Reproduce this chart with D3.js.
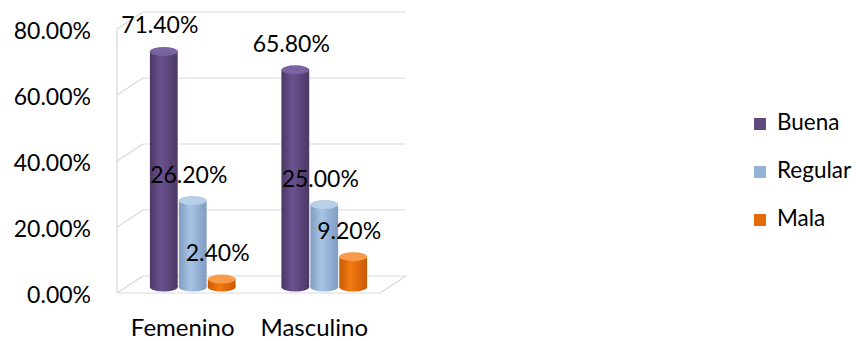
<!DOCTYPE html>
<html>
<head>
<meta charset="utf-8">
<script src="https://cdn.jsdelivr.net/npm/d3@7"></script>
<style>
  body { margin: 0; background: #fff; }
  text { font-family: Lato, "Open Sans", sans-serif; fill: #000; }
</style>
</head>
<body>
<svg id="chart" width="866" height="341"></svg>
<script>
const categories = ["Femenino", "Masculino"];
const series = ["Buena", "Regular", "Mala"];
const values = {
    Buena: [0.714, 0.658],
    Regular: [0.262, 0.25],
    Mala: [0.024, 0.092]
};
const yTicks = [0, 0.2, 0.4, 0.6, 0.8];

const colors = {
    Buena: ["#4b3863", "#6a5290", "#4b3863"],
    Regular: ["#7f9cc1", "#a8c4e6", "#7f9cc1"],
    Mala: ["#c85a05", "#f47a12", "#c85a05"]
};
const tops = { Buena: "#7a64a0", Regular: "#b8cfe8", Mala: "#f89a4a" };
const legendColors = { Buena: "#604a7b", Regular: "#95b3d7", Mala: "#e46c0a" };

const svg = d3.select("#chart");

const depth = { dx: 26, dy: -17 };       // back wall offset
const barDepth = { dx: 10, dy: -6 };     // bars sit a bit inside the floor

const y = d3.scaleLinear().domain([0, 0.8]).range([293, 29]);
const x0 = d3.scaleBand().domain(categories).range([117, 380]);
const x1 = d3.scaleBand().domain(series).range([-44, 44]).padding(0.04);

// gradients for cylinders
const defs = svg.append("defs");
series.forEach(s => {
    const g = defs.append("linearGradient").attr("id", "grad-" + s)
        .attr("x1", "0%").attr("x2", "100%").attr("y1", "0%").attr("y2", "0%");
    g.append("stop").attr("offset", "0%").attr("stop-color", colors[s][0]);
    g.append("stop").attr("offset", "40%").attr("stop-color", colors[s][1]);
    g.append("stop").attr("offset", "100%").attr("stop-color", colors[s][2]);
});

const grid = svg.append("g").attr("stroke", "#d9d9d9").attr("stroke-width", 1.2).attr("fill", "none");

// back wall gridlines + side wall diagonals
grid.selectAll(".back")
    .data(yTicks)
    .join("line")
    .attr("x1", 117 + depth.dx).attr("x2", 380 + depth.dx)
    .attr("y1", d => y(d) + depth.dy).attr("y2", d => y(d) + depth.dy);

grid.selectAll(".side")
    .data(yTicks)
    .join("line")
    .attr("x1", 117).attr("x2", 117 + depth.dx)
    .attr("y1", d => y(d)).attr("y2", d => y(d) + depth.dy);

// left vertical edge
grid.append("line")
    .attr("x1", 117).attr("x2", 117)
    .attr("y1", y(0)).attr("y2", y(0.8));

// floor front edge + right diagonal
grid.append("line")
    .attr("x1", 117).attr("x2", 380)
    .attr("y1", y(0)).attr("y2", y(0));
grid.append("line")
    .attr("x1", 380).attr("x2", 380 + depth.dx)
    .attr("y1", y(0)).attr("y2", y(0) + depth.dy);

// y axis labels
svg.append("g").selectAll("text")
    .data(yTicks)
    .join("text")
    .attr("x", 91)
    .attr("y", d => y(d) + 10)
    .attr("text-anchor", "end")
    .attr("font-size", 23)
    .text(d => d3.format(".2%")(d));

// category labels
svg.append("g").selectAll("text")
    .data(categories)
    .join("text")
    .attr("x", d => x0(d) + x0.bandwidth() / 2)
    .attr("y", 336)
    .attr("text-anchor", "middle")
    .attr("font-size", 24)
    .text(d => d);

// bars as cylinders
const bars = [];
categories.forEach((c, i) => {
    series.forEach(s => {
        bars.push({ cat: c, s: s, v: values[s][i] });
    });
});

const rx = x1.bandwidth() / 2;
const ry = 4.5;
const cx = d => x0(d.cat) + x0.bandwidth() / 2 + x1(d.s) + rx + barDepth.dx;
const baseY = y(0) + barDepth.dy;
const topY = d => y(d.v) + barDepth.dy;

const barG = svg.append("g");
const cyl = barG.selectAll("g")
    .data(bars)
    .join("g");

cyl.append("ellipse")
    .attr("cx", cx).attr("cy", baseY)
    .attr("rx", rx).attr("ry", ry)
    .attr("fill", d => `url(#grad-${d.s})`);

cyl.append("rect")
    .attr("x", d => cx(d) - rx)
    .attr("y", topY)
    .attr("width", rx * 2)
    .attr("height", d => baseY - topY(d))
    .attr("fill", d => `url(#grad-${d.s})`);

cyl.append("ellipse")
    .attr("cx", cx).attr("cy", topY)
    .attr("rx", rx).attr("ry", ry)
    .attr("fill", d => tops[d.s]);

// value labels
svg.append("g").selectAll("text")
    .data(bars)
    .join("text")
    .attr("x", d => cx(d) - 4)
    .attr("y", d => topY(d) - 18)
    .attr("text-anchor", "middle")
    .attr("font-size", 23)
    .text(d => d3.format(".2%")(d.v));

// legend
const legend = svg.append("g").attr("transform", "translate(754,124)");
const item = legend.selectAll("g")
    .data(series)
    .join("g")
    .attr("transform", (d, i) => `translate(0,${i * 48})`);
item.append("rect")
    .attr("x", 0).attr("y", -6)
    .attr("width", 12).attr("height", 12)
    .attr("fill", d => legendColors[d]);
item.append("text")
    .attr("x", 23).attr("y", 6)
    .attr("font-size", 22.5)
    .text(d => d);
</script>
</body>
</html>
